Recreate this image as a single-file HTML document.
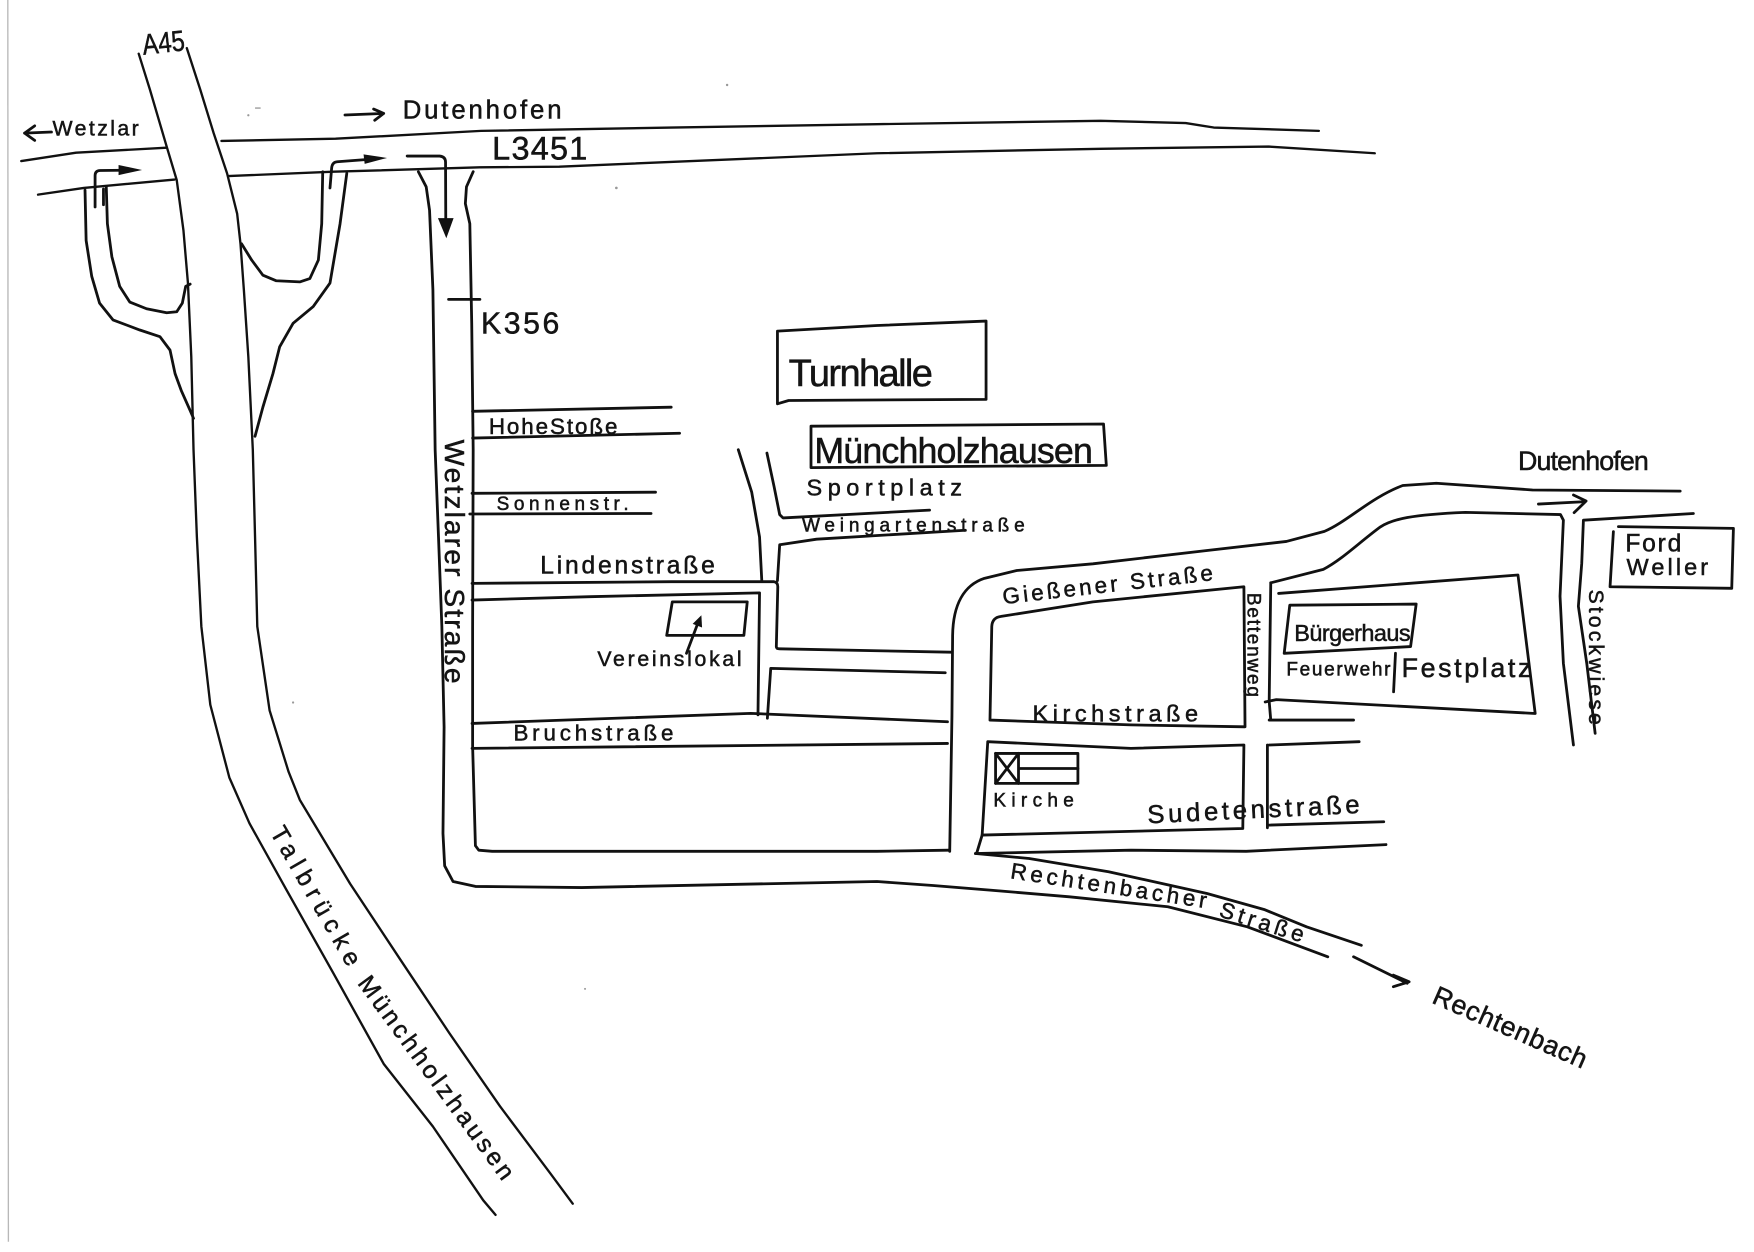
<!DOCTYPE html>
<html>
<head>
<meta charset="utf-8">
<style>
  html, body { margin: 0; padding: 0; background: #ffffff; }
  body { width: 1754px; height: 1252px; overflow: hidden; }
  svg { display: block; }
  text { font-family: "Liberation Sans", "DejaVu Sans", sans-serif; fill: #141414; stroke: #141414; stroke-width: 0.45; }
</style>
</head>
<body>
<svg width="1754" height="1252" viewBox="0 0 1568 1119.2" preserveAspectRatio="none" xmlns="http://www.w3.org/2000/svg">
  <rect x="0" y="0" width="1568" height="1119.2" fill="#ffffff"/>
  <!-- scan edge -->
  <line x1="7" y1="0" x2="7.5" y2="1110" stroke="#b8b8b8" stroke-width="1.2"/>
  <!-- specks -->
  <g fill="#999">
    <circle cx="222" cy="103" r="1"/>
    <rect x="228" y="96" width="5" height="1.2"/>
    <circle cx="650" cy="76" r="1.1"/>
    <circle cx="551" cy="168" r="1.2"/>
    <circle cx="262" cy="628" r="1"/>
    <circle cx="523" cy="884" r="0.9"/>
  </g>

  <!-- A45 and L3451 (thinner lines) -->
  <g fill="none" stroke="#111" stroke-width="2.1" stroke-linecap="round" stroke-linejoin="round">
    <path d="M124,48 L134,80 L149,131 L158,161 L164,206 L168,253 L171,319 L173,402 L176,480 L180,560 L188,630 L205,695 L223,736 L253,790 L298,870 L343,951 L387,1007 L432,1073 L443,1086"/>
    <path d="M167,43 L179,80 L191,119 L203,155 L212,191 L215,218 L218,259 L222,319 L226,402 L228,480 L230,560 L241,635 L258,690 L268,715 L313,790 L358,858 L402,924 L447,989 L492,1049 L512,1076"/>
    <path d="M19,144 L68,136.5 L149,132"/>
    <path d="M34,174 L75,168 L156,160.5"/>
    <path d="M198,126 L300,124 L430,117 L600,114 L784,111 L984,108 L1060,110 L1085,114 L1179,117"/>
    <path d="M204,157.4 L298,153.5 L429,149.6 L500,149 L784,137 L984,133 L1134,131 L1229,137"/>
  </g>

  <g fill="none" stroke="#111" stroke-width="2.5" stroke-linecap="round" stroke-linejoin="round">
    <!-- left loop ramp -->
    <path d="M76,170 L77,215 L82,247 L89,271 L101,286 L125,295 L143,301 L152,313 L156.5,334 L162,349 L170,367 L173,374"/>
    <path d="M95,167 L96,200 L100,229.5 L107,256 L116,270 L131,276 L149,279.6 L158,278.7 L163,271 L166,256 L170,254"/>
    <path d="M85,185 L85,157 Q85,152.5 89.5,152.4 L110,152.2"/>
    <path d="M92.5,169 L92.5,183"/>
    <!-- right ramp -->
    <path d="M310,155 L304,200 L295,253 L280,274 L262,289 L250,310 L244,334 L235,364 L228,390"/>
    <path d="M288.5,153.5 L287.6,200 L284.6,232.5 L277,249 L268,252 L247,251 L235,246 L225,232.5 L216,218"/>
    <path d="M295,168 L296.5,150 Q297,145 301.5,144.6 L328,142.6"/>
    <!-- Wetzlarer arrow -->
    <path d="M364,139.5 L393,139.5 Q398.3,140 398.3,145 L398.5,198"/>
    <path d="M401,267.6 L429,267.6"/>

    <!-- Wetzlarer Strasse + Rechtenbacher bottom -->
    <path d="M374,153.5 L381,167 L384,188 L387,259 L389,402 L392,480 L395,560 L397,650 L396,745 L397.5,774 L405,788 L425,792.4 L520,793.4 L784,788 L834,791.6 L885,795.7 L956,801.7 L1044,810.6 L1115,828.5 L1187,855.3"/>
    <path d="M423,153.5 L417,167 L416,182 L420,200 L421.7,289 L423,402 L422.5,560 L422.5,667 L425,756 L428,760 L440,761 L600,761 L784,761 L848,760"/>

    <!-- side streets -->
    <path d="M422.5,367.7 L600,364"/>
    <path d="M422.5,391.6 L607.5,387.3"/>
    <path d="M422,441 L586,440"/>
    <path d="M420,459.5 L582,459"/>
    <path d="M422,521.5 L600,520 L692,520 Q695.5,520.5 695.3,525 L694,578 Q694,580 697,580 L850,583"/>
    <path d="M695,519 L697,487 L730,482 L863,474"/>
    <path d="M660,402 L672,440 L679,480 L681,519"/>
    <path d="M685.6,405 L692,435 L697,460 L700,463 L831,456"/>
    <path d="M422,536.4 L527.5,533.4 L679,530 L677.6,639"/>
    <path d="M845,601.4 L689,597.5 L686,642"/>
    <path d="M422,646.7 L671,637.7 L847,645.2"/>
    <path d="M422,669 L847,664.6"/>
    <!-- Vereinslokal -->
    <path d="M601,538 L668,538 L665,568 L596,568 Z"/>
    <path d="M613.7,584 L623.5,558"/>
    <!-- boxes -->
    <path d="M725,381 L986.5,379 L989,416 L725,418 Z"/>
    <path d="M695,296 L784,291 L881.5,287 L881.5,357 L705,358 L695,361 Z"/>

    <!-- Giessener Strasse -->
    <path d="M849,761 L851,640 L851.6,568 C852,540 862,523 880,517 L909,510 L977,504 L1080,492 L1150,484 L1184,475 C1205,466 1225,445 1254,434 L1284,432 L1370,438 L1502,439"/>
    <path d="M885,643.7 L886.6,560 Q887,552 895,551 L977,538 L1112,524.5 L1113,649.7 L1011,648 Z"/>
    <path d="M883,663 L1011,669 L1112,666 L1111,740.6 L878,746.5 Z"/>
    <path d="M878,746.5 L873,763"/>
    <path d="M872,763 L1011,760 L1114,761 L1239,755"/>
    <path d="M872,763 L920,767.4 L991,779.3 L1079,798.7 L1130,813 L1168,828.5 L1217,845"/>
    <path d="M1134,737.6 L1237,734.6"/>
    <path d="M1134.6,643.7 L1210,643.7"/>
    <path d="M1134.6,666 L1215,663"/>
    <path d="M1133,666 L1133,740"/>
    <path d="M1136,521 L1134.6,627 L1136,643.7"/>
    <path d="M1131,627.5 L1141,625.4 L1372.4,637.8 L1357,514 L1143,530.5"/>
    <path d="M1136,521 L1183,509 C1200,500 1215,485 1234,471 C1245,464 1262,460 1310,458 L1395,460 L1397.6,465 L1394.6,533 L1397.6,593 L1406.6,666"/>
    <path d="M1513.8,459 L1415.5,465 L1414,503.6 L1411,542 L1418.5,593 L1426,655.6"/>
    <path d="M1375.3,450.6 L1415.5,448.5"/>
    <path d="M1406.6,442.5 L1417.9,447.9 L1407.2,458.3"/>
    <path d="M1446.8,470.8 L1549.6,472.3 L1548.1,525.9 L1439.3,524.5 L1442.3,475.3"/>
    <path d="M1153,541 L1266,540 L1261,578 L1148,584 Z"/>
    <path d="M1247.5,584 L1245.8,618.4"/>
    <!-- Kirche -->
    <rect x="890" y="673.5" width="73.6" height="26.8"/>
    <path d="M890,673.5 L910.5,700.3 M910.5,673.5 L890,700.3 M910.5,673.5 L910.5,700.3 M910.5,687 L963.6,687"/>
    <!-- Rechtenbach arrow -->
    <path d="M1210,855.3 L1258,879"/>
    <path d="M1245.6,871.7 L1259.7,877.7 L1245.6,882"/>
    <!-- top arrows -->
    <path d="M308.4,102.8 L342.7,101.4"/>
    <path d="M334,97.5 L343,101.4 L335,107.5"/>
    <path d="M22,119 L46,118"/>
    <path d="M31,112.5 L22,119 L31,125.5"/>
  </g>

  <!-- arrow heads -->
  <g fill="#111" stroke="none">
    <polygon points="106,147.5 127,152 106,156.5"/>
    <polygon points="325,138 346,141.2 326,146.5"/>
    <polygon points="391.5,195 405.5,195 399,213"/>
    <polygon points="627,550 627.6,560.9 619.2,557.7"/>
  </g>

  <!-- labels -->
  <text x="127" y="47" font-size="26" textLength="38" lengthAdjust="spacingAndGlyphs" transform="rotate(-6 146 37)">A45</text>
  <text x="47" y="121" font-size="19" textLength="77">Wetzlar</text>
  <text x="360" y="106" font-size="23" textLength="142">Dutenhofen</text>
  <text x="440" y="142.5" font-size="29" textLength="85">L3451</text>
  <text x="430" y="298" font-size="27" textLength="70">K356</text>
  <text x="705" y="345" font-size="34" textLength="129">Turnhalle</text>
  <text x="728" y="414" font-size="32" textLength="249">Münchholzhausen</text>
  <text x="721" y="443" font-size="21" textLength="139">Sportplatz</text>
  <text x="717" y="475" font-size="17" textLength="199">Weingartenstraße</text>
  <text x="437" y="388" font-size="20" textLength="115">HoheStoße</text>
  <text x="444" y="456" font-size="17" textLength="118">Sonnenstr.</text>
  <text x="483" y="512.5" font-size="22" textLength="156">Lindenstraße</text>
  <text x="534" y="595.5" font-size="19" textLength="129">Vereinslokal</text>
  <text x="459" y="662" font-size="20" textLength="143">Bruchstraße</text>
  <text transform="translate(398,393) rotate(90)" font-size="25" textLength="218">Wetzlarer Straße</text>
  <text transform="translate(1115,530) rotate(90)" font-size="17" textLength="93">Bettenweg</text>
  <text transform="translate(1420.5,527) rotate(90)" font-size="19" textLength="121">Stockwiese</text>
  <text transform="translate(897,540) rotate(-6.5)" font-size="20" textLength="189">Gießener Straße</text>
  <text x="923" y="645" font-size="21" textLength="148">Kirchstraße</text>
  <text x="888" y="721" font-size="17" textLength="72">Kirche</text>
  <text transform="translate(1026,736) rotate(-2.8)" font-size="23" textLength="190">Sudetenstraße</text>
  <text x="1157" y="573" font-size="21" textLength="104">Bürgerhaus</text>
  <text x="1150" y="604" font-size="17" textLength="93">Feuerwehr</text>
  <text x="1253" y="605" font-size="24" textLength="116">Festplatz</text>
  <text x="1357" y="420" font-size="24" textLength="117">Dutenhofen</text>
  <text x="1453" y="493" font-size="22" textLength="50">Ford</text>
  <text x="1454" y="514" font-size="21" textLength="73">Weller</text>
  <text transform="translate(902.7,785) rotate(8.7)" font-size="20" textLength="177">Rechtenbacher</text>
  <text transform="translate(1089,819) rotate(17.5)" font-size="20" textLength="78">Straße</text>
  <text transform="translate(1279,896) rotate(23.7)" font-size="24" textLength="148">Rechtenbach</text>
  <text transform="translate(241,744) rotate(60)" font-size="22" textLength="140">Talbrücke</text>
  <text transform="translate(319,879) rotate(53.7)" font-size="22" textLength="220">Münchholzhausen</text>
</svg>
</body>
</html>
